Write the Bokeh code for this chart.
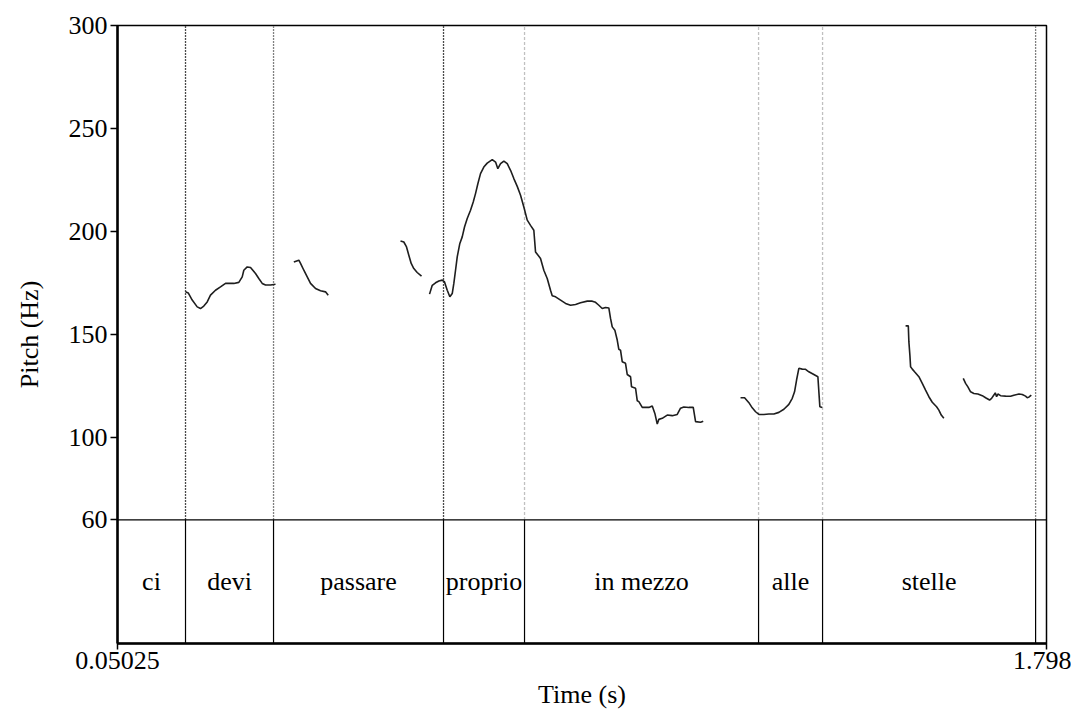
import math
from bokeh.plotting import figure
from bokeh.models import Range1d, FixedTicker, Span
from bokeh.core.properties import value
from bokeh.embed import file_html
from bokeh.resources import INLINE

# ---- data ----
t_start, t_end = 0.05025, 1.798
f_min, f_max = 60, 300

words = ["ci", "devi", "passare", "proprio", "in mezzo", "alle", "stelle"]
word_starts = [0.05025, 0.1782, 0.3438, 0.6636, 0.8160, 1.2563, 1.3767]
word_ends = [0.1782, 0.3438, 0.6636, 0.8160, 1.2563, 1.3767, 1.7775]

y_ticks = [60, 100, 150, 200, 250, 300]
x_ticks = [0.05025, 1.798]
x_tick_labels = ["0.05025", "1.798"]

# pitch contour pieces (time s, pitch Hz)
t_devi = [0.1782, 0.1833, 0.1908, 0.2002, 0.2064, 0.2126, 0.2190, 0.2252, 0.2346, 0.2440, 0.2535,
          0.2629, 0.2691, 0.2785, 0.2849, 0.2879, 0.2943, 0.3005, 0.3099, 0.3161, 0.3225, 0.3287,
          0.3381, 0.3475]
f_devi = [170.7, 170.2, 166.7, 163.4, 162.6, 163.8, 165.8, 169.1, 171.5, 173.1, 174.8,
          174.8, 174.8, 175.3, 178.0, 181.2, 182.8, 182.5, 179.6, 177.2, 174.8, 174.0,
          174.0, 174.4]

t_pass1 = [0.3820, 0.3914, 0.3946, 0.4008, 0.4072, 0.4134, 0.4228, 0.4322, 0.4416, 0.4467]
f_pass1 = [185.2, 186.1, 184.5, 181.2, 178.0, 174.8, 172.3, 171.2, 170.7, 169.1]

t_pass2 = [0.5827, 0.5889, 0.5940, 0.5983, 0.6028, 0.6077, 0.6141, 0.6222]
f_pass2 = [195.4, 194.9, 192.5, 188.5, 184.5, 182.0, 180.1, 178.3]

t_main = [0.6373, 0.6424, 0.6486, 0.6548, 0.6612, 0.6655, 0.6706, 0.6755, 0.6800, 0.6830,
          0.6862, 0.6894, 0.6943, 0.6988, 0.7031, 0.7082, 0.7144, 0.7195, 0.7238, 0.7282,
          0.7332, 0.7394, 0.7458, 0.7553, 0.7615, 0.7658, 0.7709, 0.7771, 0.7835, 0.7897,
          0.7959, 0.8023, 0.8085, 0.8147, 0.8211, 0.8273, 0.8335, 0.8367, 0.8461, 0.8523,
          0.8587, 0.8649, 0.8681, 0.8744, 0.8838, 0.8932, 0.9026, 0.9120, 0.9214, 0.9340,
          0.9434, 0.9496, 0.9558, 0.9622, 0.9684, 0.9746, 0.9778, 0.9810, 0.9859, 0.9904,
          0.9934, 0.9966, 0.9998, 1.0060, 1.0092, 1.0155, 1.0173, 1.0249, 1.0281, 1.0311,
          1.0375, 1.0499, 1.0563, 1.0612, 1.0657, 1.0687, 1.0751, 1.0845, 1.0939, 1.1033,
          1.1095, 1.1157, 1.1252, 1.1334, 1.1378, 1.1472, 1.1522]
f_main = [169.6, 173.9, 175.1, 176.0, 176.4, 175.5, 171.5, 168.3, 169.9, 174.8,
          181.2, 187.7, 194.2, 197.4, 202.2, 206.3, 210.3, 214.3, 218.4, 223.2,
          228.1, 231.3, 233.2, 234.9, 233.7, 230.5, 232.9, 234.2, 232.9, 229.7,
          225.7, 221.9, 217.6, 211.9, 205.5, 203.0, 200.6, 190.1, 186.9, 181.2,
          177.2, 171.5, 168.8, 168.3, 166.7, 165.1, 164.2, 164.6, 165.4, 166.2,
          166.2, 165.6, 164.2, 162.6, 163.1, 162.9, 157.8, 153.7, 152.1, 147.3,
          142.8, 142.4, 136.8, 136.0, 130.6, 129.5, 124.6, 123.9, 117.8, 117.4,
          114.6, 114.6, 115.3, 111.7, 106.5, 108.8, 109.3, 110.9, 110.6, 111.2,
          114.2, 114.8, 114.6, 114.6, 107.7, 107.4, 107.9]

t_alle = [1.2224, 1.2300, 1.2381, 1.2444, 1.2507, 1.2569, 1.2663, 1.2757, 1.2851, 1.2945,
          1.3039, 1.3133, 1.3197, 1.3240, 1.3278, 1.3321, 1.3385, 1.3447, 1.3509, 1.3603,
          1.3679, 1.3716, 1.3762]
f_alle = [119.3, 119.3, 116.9, 114.4, 112.5, 111.2, 111.2, 111.4, 111.4, 112.2,
          113.7, 116.1, 119.0, 122.2, 127.9, 133.6, 133.2, 133.1, 131.9, 130.6,
          129.5, 114.9, 114.6]

t_stel1 = [1.5329, 1.5380, 1.5391, 1.5410, 1.5423, 1.5455, 1.5498, 1.5579, 1.5643, 1.5705,
           1.5767, 1.5831, 1.5912, 1.5955, 1.6000, 1.6049]
f_stel1 = [154.2, 154.2, 146.4, 140.0, 134.3, 133.2, 131.9, 129.5, 126.3, 123.0,
           119.8, 117.1, 114.9, 113.3, 110.9, 109.3]

t_stel2 = [1.6414, 1.6458, 1.6501, 1.6552, 1.6614, 1.6689, 1.6772, 1.6834, 1.6909, 1.6947,
           1.6990, 1.7016, 1.7041, 1.7065, 1.7116, 1.7210, 1.7304, 1.7366, 1.7461, 1.7524,
           1.7586, 1.7618, 1.7648, 1.7694]
f_stel2 = [128.7, 126.3, 124.6, 122.2, 121.4, 121.1, 120.3, 119.3, 118.2, 119.0,
           120.6, 121.7, 119.8, 121.1, 120.3, 120.1, 120.0, 120.5, 121.1, 120.9,
           120.1, 119.3, 119.6, 120.6]

# ---- figure ----
FONT = "Liberation Serif"

p = figure(width=1071, height=713,
           x_range=Range1d(t_start, t_end), y_range=Range1d(0, f_max),
           output_backend="svg", toolbar_location=None,
           min_border_left=117, min_border_right=25, min_border_top=25, min_border_bottom=70)
p.grid.visible = False
p.background_fill_color = "white"
p.border_fill_color = "white"
p.outline_line_color = "black"
p.outline_line_width = 1.5

# axes
ya = p.yaxis[0]
ya.ticker = FixedTicker(ticks=y_ticks)
ya.axis_line_width = 2.5
ya.major_tick_out = 7
ya.major_tick_in = 0
ya.minor_tick_out = 0
ya.minor_tick_in = 0
ya.major_tick_line_width = 1.5
ya.major_label_standoff = 3
ya.major_label_text_font = FONT
ya.major_label_text_font_size = "26px"
ya.major_label_text_color = "black"
ya.axis_label = "Pitch (Hz)"
ya.axis_label_text_font = FONT
ya.axis_label_text_font_size = "26px"
ya.axis_label_text_font_style = "normal"
ya.axis_label_text_color = "black"
ya.axis_label_standoff = 22

xa = p.xaxis[0]
xa.ticker = FixedTicker(ticks=x_ticks)
xa.major_label_overrides = {k: v for k, v in zip(x_ticks, x_tick_labels)}
xa.axis_line_width = 2.5
xa.major_tick_out = 6
xa.major_tick_in = 0
xa.minor_tick_out = 0
xa.minor_tick_in = 0
xa.major_tick_line_width = 1.5
xa.major_label_standoff = 2
xa.major_label_text_font = FONT
xa.major_label_text_font_size = "26px"
xa.major_label_text_color = "black"
xa.axis_label = "Time (s)"
xa.axis_label_text_font = FONT
xa.axis_label_text_font_size = "26px"
xa.axis_label_text_font_style = "normal"
xa.axis_label_text_color = "black"
xa.axis_label_standoff = 8

# horizontal line at 60 Hz separating the tier
p.add_layout(Span(location=f_min, dimension="width", line_color="black", line_width=1.2))

# tier boundaries (solid, lower panel)
bnds = word_ends
p.segment(x0=bnds, y0=[0] * len(bnds), x1=bnds, y1=[f_min] * len(bnds),
          line_color="black", line_width=1.2)

# dotted boundary lines in pitch panel
dark = [word_ends[0], word_ends[2]]
mid = [word_ends[1], word_ends[6]]
light = [word_ends[3], word_ends[4], word_ends[5]]
p.segment(x0=dark, y0=[f_min] * 2, x1=dark, y1=[f_max] * 2,
          line_color="#4a4a4a", line_width=1.3, line_dash="2 1")
p.segment(x0=mid, y0=[f_min] * 2, x1=mid, y1=[f_max] * 2,
          line_color="#808080", line_width=1.3, line_dash="2 1")
p.segment(x0=light, y0=[f_min] * 3, x1=light, y1=[f_max] * 3,
          line_color="#c0c0c0", line_width=1.3, line_dash="3 2")

# pitch contour
xs = [t_devi, t_pass1, t_pass2, t_main, t_alle, t_stel1, t_stel2]
ys = [f_devi, f_pass1, f_pass2, f_main, f_alle, f_stel1, f_stel2]
p.multi_line(xs=xs, ys=ys, line_color="#1e1e1e", line_width=1.6)

# word labels
centers = [(a + b) / 2 for a, b in zip(word_starts, word_ends)]
p.text(x=centers, y=[30] * len(words), text=words,
       text_font=value(FONT), text_font_size="26px", text_color="black",
       text_align="center", text_baseline="middle")

open("out.html", "w").write(file_html(p, INLINE))
